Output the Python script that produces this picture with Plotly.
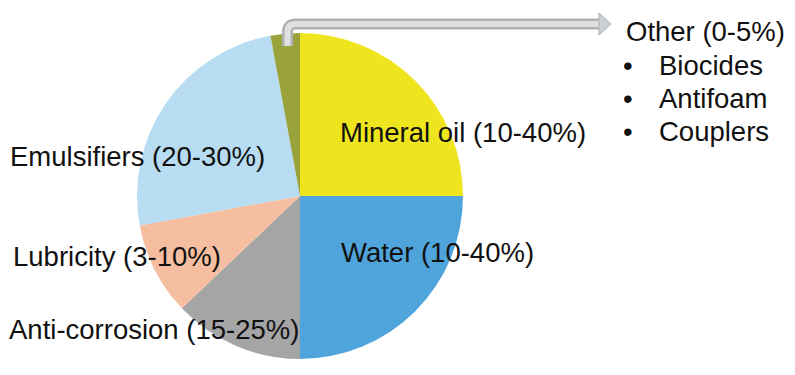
import plotly.graph_objects as go

# ---- data ----
categories = ["Mineral oil", "Water", "Anti-corrosion", "Lubricity", "Emulsifiers", "Other"]
ranges = ["10-40%", "10-40%", "15-25%", "3-10%", "20-30%", "0-5%"]
values = [25.0, 25.0, 12.9, 9.2, 25.0, 2.9]
colors = ["#EEE51E", "#50A4DC", "#A5A5A5", "#F6BEA0", "#B8DDF3", "#99A23B"]
other_items = ["Biocides", "Antifoam", "Couplers"]

W, H = 795, 375
FONT = "Arial, Liberation Sans, sans-serif"
FS = 27.5

fig = go.Figure()
fig.add_trace(go.Pie(
    labels=categories, values=values, sort=False, direction="clockwise", rotation=0,
    marker=dict(colors=colors, line=dict(width=0)),
    textinfo="none", hoverinfo="label", showlegend=False,
    domain=dict(x=[137 / W, 463 / W], y=[16 / H, 342 / H]),
))

# label placements (pixel coords: left x, center y)
label_pos = {
    "Mineral oil": (338, 132),
    "Water": (339, 252),
    "Anti-corrosion": (7, 329),
    "Lubricity": (11, 256),
    "Emulsifiers": (8, 156),
    "Other": (624, 31),
}
annotations = []
for cat, rng in zip(categories, ranges):
    x, y = label_pos[cat]
    annotations.append(dict(x=x, y=y, xref="x", yref="y", text=f"{cat} ({rng})",
                            showarrow=False, xanchor="left", yanchor="middle",
                            font=dict(family=FONT, size=FS, color="#111111")))
for i, item in enumerate(other_items):
    y = 65 + i * 33
    annotations.append(dict(x=621, y=y, xref="x", yref="y", text="•", showarrow=False,
                            xanchor="left", yanchor="middle",
                            font=dict(family=FONT, size=FS, color="#111111")))
    annotations.append(dict(x=657, y=y, xref="x", yref="y", text=item, showarrow=False,
                            xanchor="left", yanchor="middle",
                            font=dict(family=FONT, size=FS, color="#111111")))

# arrow from "Other" slice to the Other label
arrow_path = "M 287.5 46 L 287.5 32 Q 287.5 24 295.5 24 L 601 24"
shapes = [
    dict(type="path", xref="x", yref="y", path=arrow_path,
         line=dict(color="#AEB1B4", width=11)),
    dict(type="path", xref="x", yref="y", path=arrow_path,
         line=dict(color="#DEE0E2", width=6)),
    dict(type="path", xref="x", yref="y", path="M 599 13 L 611 24 L 599 35 Z",
         fillcolor="#CDD0D3", line=dict(color="#AEB1B4", width=1)),
]

fig.update_layout(
    width=W, height=H, margin=dict(l=0, r=0, t=0, b=0),
    paper_bgcolor="white", plot_bgcolor="rgba(0,0,0,0)",
    xaxis=dict(range=[0, W], visible=False, domain=[0, 1], fixedrange=True),
    yaxis=dict(range=[H, 0], visible=False, domain=[0, 1], fixedrange=True),
    annotations=annotations, shapes=shapes,
)

fig.write_html("out.html", config={"displayModeBar": False},
               post_script="document.body.style.margin='0px';")
